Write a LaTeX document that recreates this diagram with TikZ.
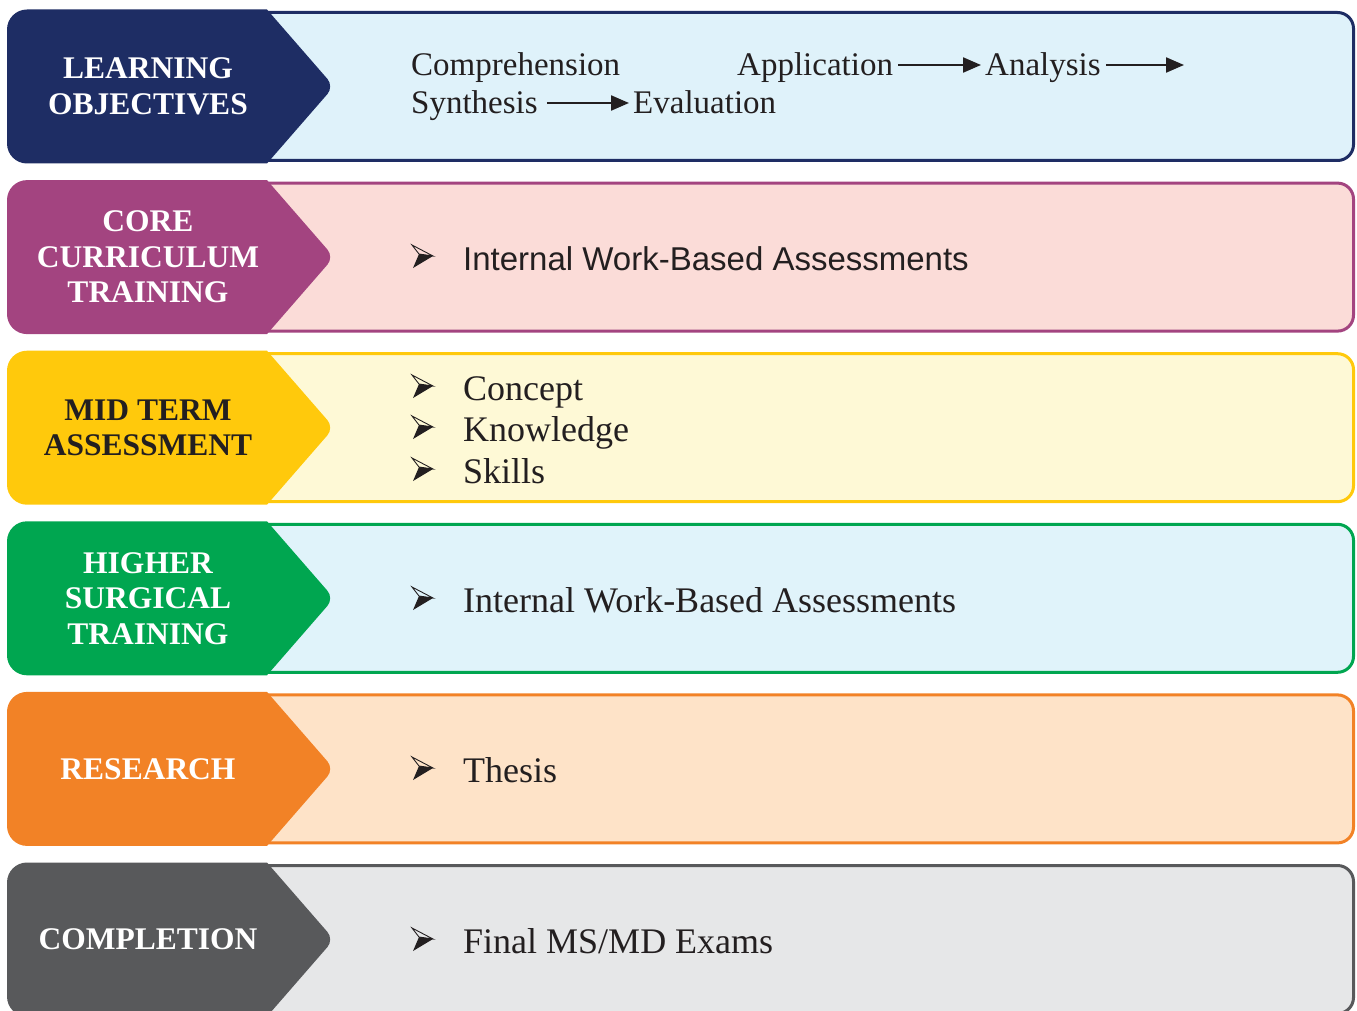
\documentclass[tikz,border=0pt]{standalone}
\usepackage{fontspec}
\setmainfont{Liberation Serif}
\newfontfamily\sansf{Liberation Sans}
\usetikzlibrary{arrows.meta}
\definecolor{navy}{HTML}{1E2D64}
\definecolor{fillA}{HTML}{DFF2FA}
\definecolor{purp}{HTML}{A34480}
\definecolor{fillB}{HTML}{FBDCD8}
\definecolor{yell}{HTML}{FFC90C}
\definecolor{fillC}{HTML}{FEF9D6}
\definecolor{grn}{HTML}{00A650}
\definecolor{fillD}{HTML}{E0F3FA}
\definecolor{orng}{HTML}{F28226}
\definecolor{fillE}{HTML}{FEE3C8}
\definecolor{gry}{HTML}{58595B}
\definecolor{fillF}{HTML}{E6E7E8}
\definecolor{ink}{HTML}{231F20}
\begin{document}
\begin{tikzpicture}[x=1pt,y=-1pt,
  chevlabel/.style={font=\fontsize{31.5}{35.5}\selectfont\bfseries, align=center, text=white, inner sep=0pt},
  rowone/.style={font=\fontsize{33}{38}\selectfont, text=ink, anchor=base west, inner sep=0pt},
  body/.style={font=\fontsize{36}{41.5}\selectfont, text=ink, anchor=base west, inner sep=0pt},
  sansbody/.style={font=\sansf\fontsize{33}{38}\selectfont, text=ink, anchor=base west, inner sep=0pt},
  arrowbullet/.pic={
    \draw[ink, line width=0.9pt, line join=miter] (0,-11) -- (21,0) -- (7,-2) -- cycle;
    \fill[ink] (7,-2) -- (21,0) -- (1,12) -- cycle;
  },
  flow/.style={line width=2.2pt, draw=ink, -{Triangle[length=18pt,width=15pt]}, shorten <=5pt, shorten >=4pt}]
\useasboundingbox (0,0) rectangle (1357,1011);
\clip (0,0) rectangle (1357,1011);
% row shapes
\foreach \t/\bc/\fc in {11/navy/fillA, 181.6/purp/fillB, 352.2/yell/fillC, 522.8/grn/fillD, 693.4/orng/fillE, 864/gry/fillF}{
  \draw[line width=3pt, draw=\bc, fill=\fc, rounded corners=16pt] (240,\t+1.5) rectangle (1353.5,\t+149.5);
  \fill[\bc] (267,\t-1.5) [rounded corners=20pt] -- (7,\t-1.5) -- (7,\t+152.5) [sharp corners] -- (267,\t+152.5) [rounded corners=10pt] -- (334,\t+75.5) [sharp corners] -- cycle;
}
% chevron labels
\node[chevlabel] (lo) at (148,86.5) {LEARNING\\OBJECTIVES};
\node[chevlabel] (cc) at (148,257.1) {CORE\\CURRICULUM\\TRAINING};
\node[chevlabel, text=ink] (mt) at (148,427.7) {MID TERM\\ASSESSMENT};
\node[chevlabel] (hs) at (148,598.3) {HIGHER\\SURGICAL\\TRAINING};
\node[chevlabel] (rs) at (148,768.9) {RESEARCH};
\node[chevlabel] (cp) at (148,939.5) {COMPLETION};
% row 1
\node[rowone] (comp) at (411,76) {Comprehension};
\node[rowone] (appl) at (737,76) {Application};
\node[rowone] (anal) at (985,76) {Analysis};
\node[rowone] (synt) at (411,114) {Synthesis};
\node[rowone] (eval) at (633,114) {Evaluation};
\coordinate (aend) at (1188,65);
\draw[flow] ([yshift=11pt]appl.base east) -- ([yshift=11pt]anal.base west);
\draw[flow] ([yshift=11pt]anal.base east) -- (aend);
\draw[flow, shorten <=9pt] ([yshift=11pt]synt.base east) -- ([yshift=11pt]eval.base west);
% row 2
\pic (b2) at (412,256) {arrowbullet};
\node[sansbody] (t2) at (463,270) {Internal Work-Based Assessments};
% row 3
\pic (b3a) at (412,386) {arrowbullet};
\node[body] (t3a) at (463,400) {Concept};
\pic (b3b) at (412,427) {arrowbullet};
\node[body] (t3b) at (463,441) {Knowledge};
\pic (b3c) at (412,469) {arrowbullet};
\node[body] (t3c) at (463,483) {Skills};
% row 4
\pic (b4) at (412,598) {arrowbullet};
\node[body] (t4) at (463,612) {Internal Work-Based Assessments};
% row 5
\pic (b5) at (412,768) {arrowbullet};
\node[body] (t5) at (463,782) {Thesis};
% row 6
\pic (b6) at (412,939) {arrowbullet};
\node[body] (t6) at (463,953) {Final MS/MD Exams};
\end{tikzpicture}
\end{document}
